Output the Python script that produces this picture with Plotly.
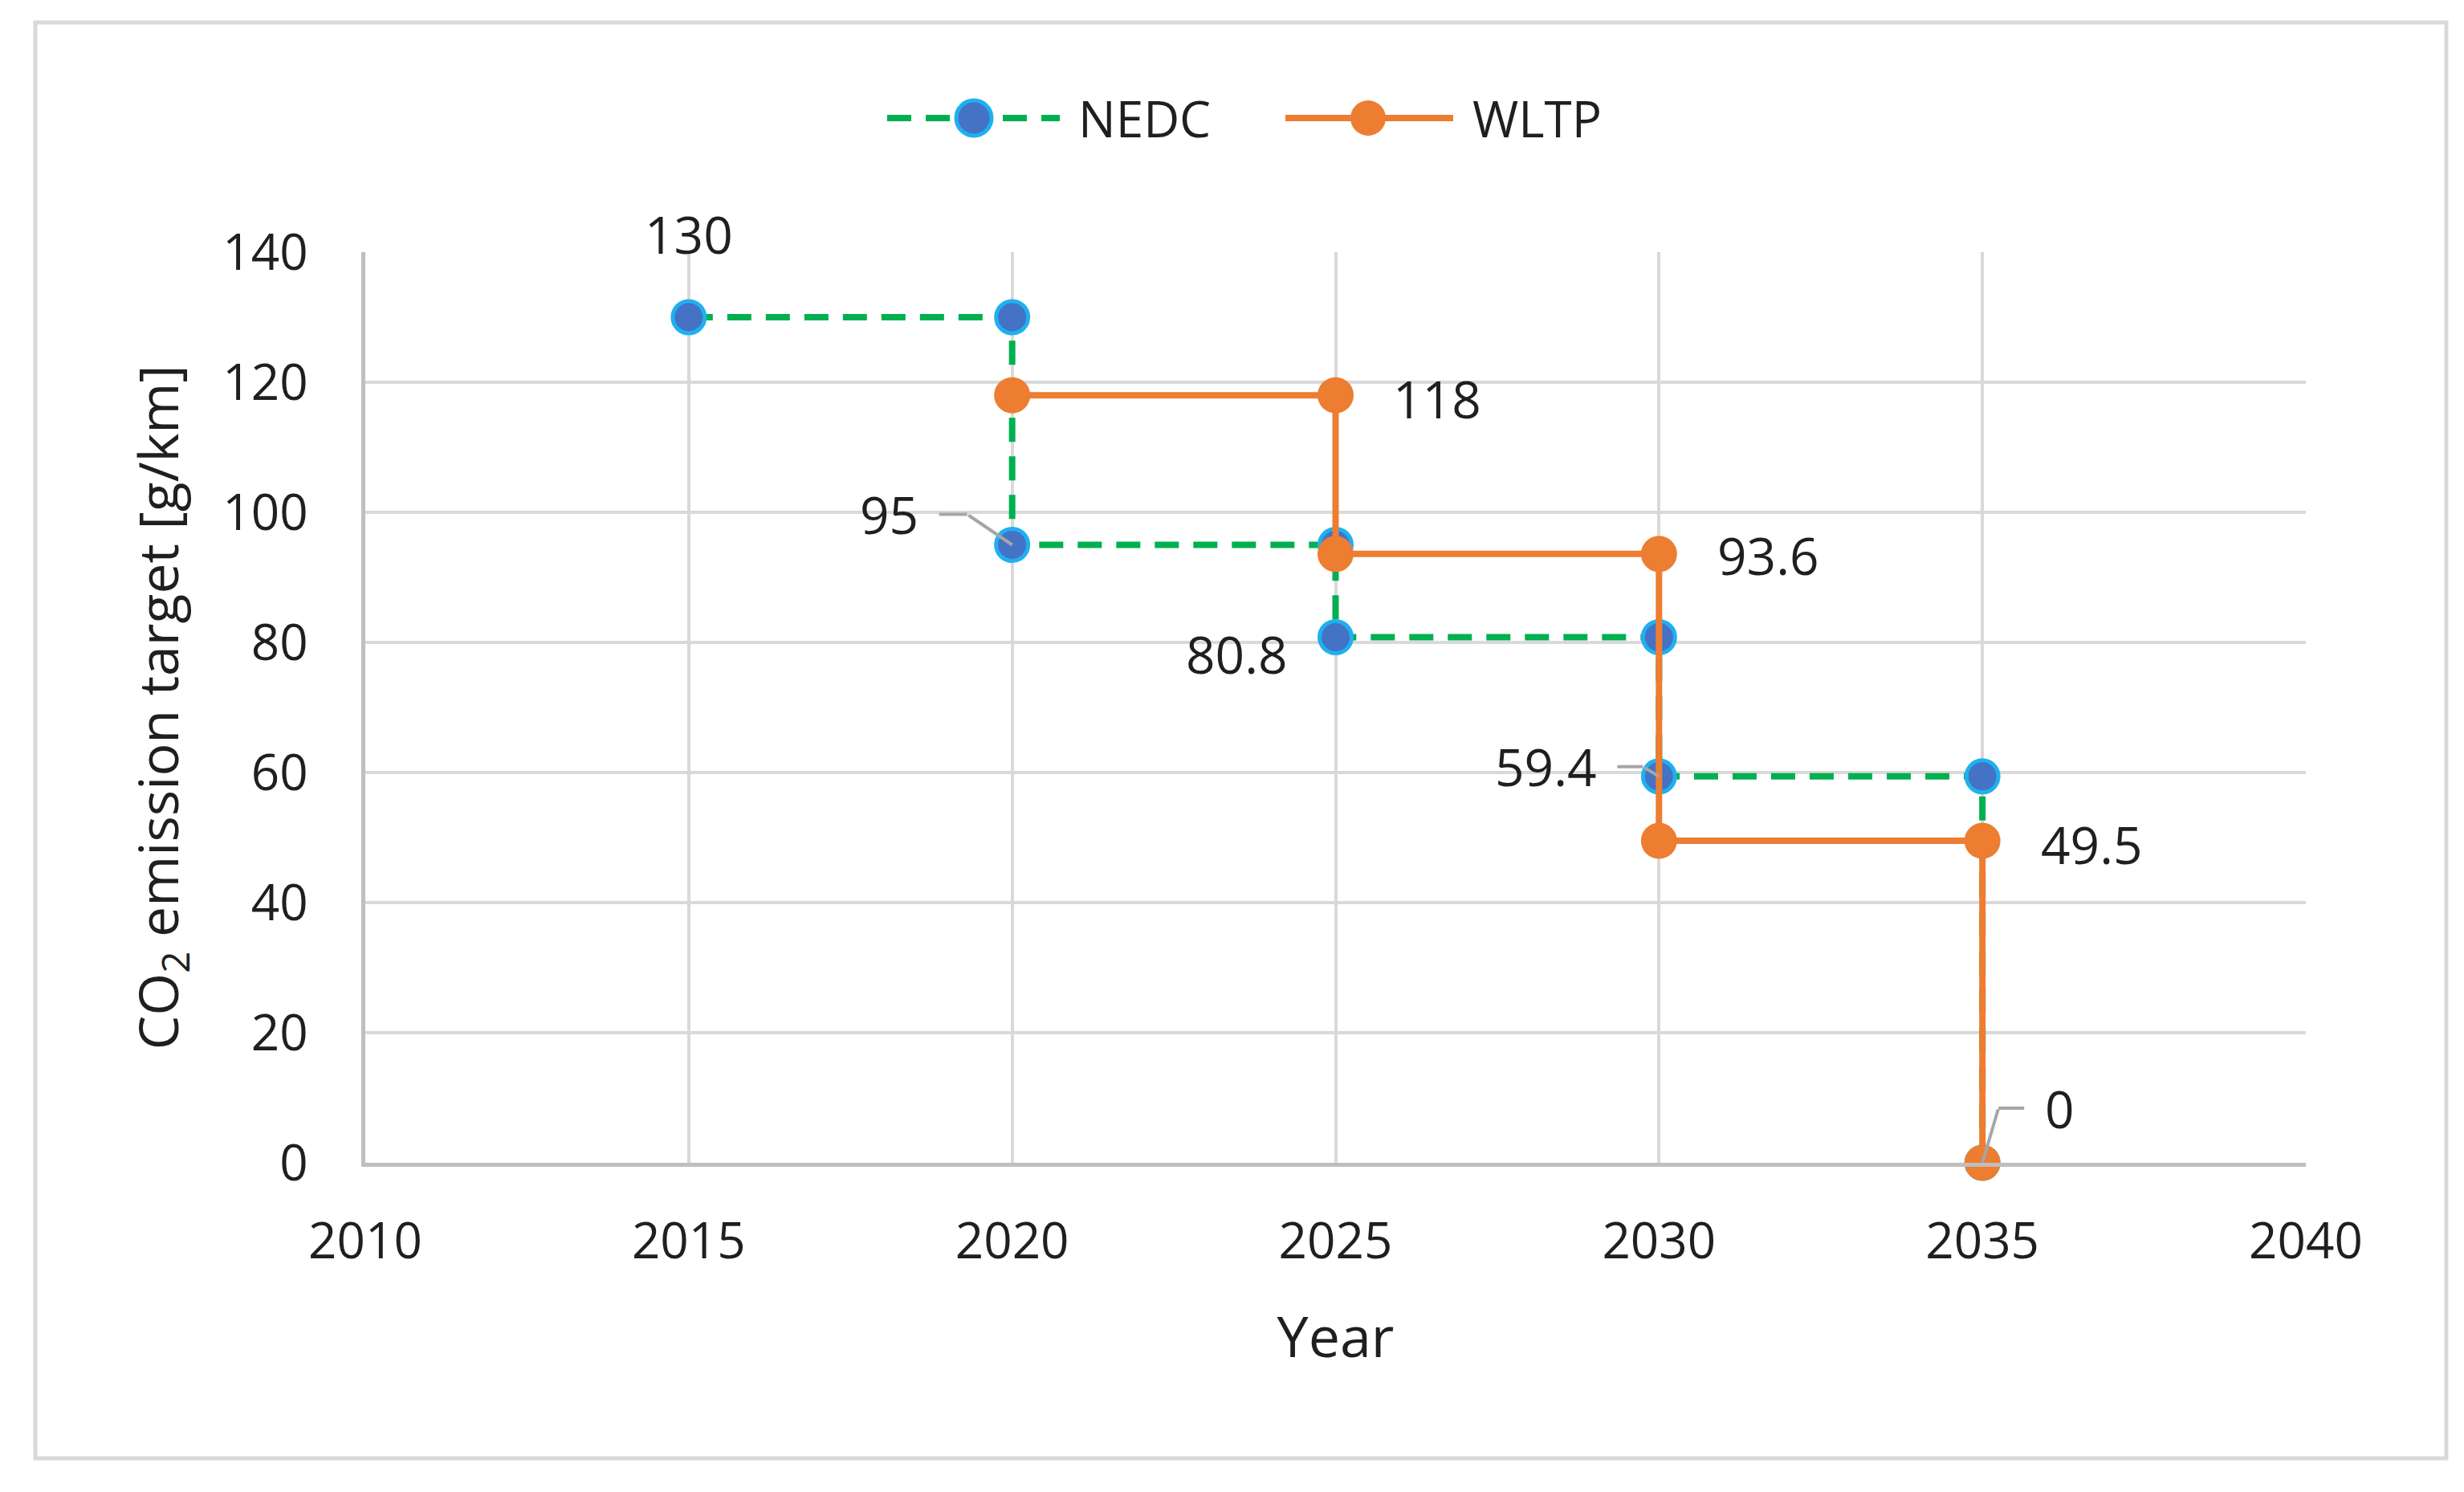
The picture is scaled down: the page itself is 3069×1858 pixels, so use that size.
import plotly.graph_objects as go

# ---- data ----
nedc_years = [2015, 2020, 2020, 2025, 2025, 2030, 2030, 2035, 2035]
nedc_values = [130, 130, 95, 95, 80.8, 80.8, 59.4, 59.4, 0]
wltp_years = [2020, 2025, 2025, 2030, 2030, 2035, 2035]
wltp_values = [118, 118, 93.6, 93.6, 49.5, 49.5, 0]

# labelled points (index into the series above)
nedc_label_idx = [0, 2, 4, 6]
wltp_label_idx = [1, 3, 5, 6]

x_ticks = [2010, 2015, 2020, 2025, 2030, 2035, 2040]
y_ticks = [0, 20, 40, 60, 80, 100, 120, 140]

# ---- styling ----
W, H = 3069, 1858
ML, MR, MT, MB = 447, 205, 306, 418
FONT = "Open Sans, Noto Sans, sans-serif"
TXT = "#1F1F1F"
GREEN = "#00B050"
NEDC_FILL = "#4472C4"
NEDC_EDGE = "#1FB0F0"
ORANGE = "#ED7D31"
GRID = "#D9D9D9"
LEADER = "#A6A6A6"
LABEL_SIZE = 64

# label placement (screen pixels, y down):
#   plain label: ("t", dx, dy)  text centre offset from the point
#   leader label: ("l", ex, ey, tx) elbow offset from point, text offset from elbow
nedc_label_pos = [("t", 0, -104), ("l", -56, -38, -97), ("t", -123, 21), ("l", -20, -12, -121)]
wltp_label_pos = [("t", 126, 4), ("t", 136, 2), ("t", 136, 4), ("l", 20, -68, 76)]

fig = go.Figure()
fig.add_trace(go.Scatter(
    x=nedc_years, y=nedc_values, mode="lines+markers", name="NEDC",
    line=dict(color=GREEN, width=8, dash="30px,18px"),
    marker=dict(size=40, color=NEDC_FILL, line=dict(color=NEDC_EDGE, width=5)),
    cliponaxis=False, showlegend=False,
))
fig.add_trace(go.Scatter(
    x=wltp_years, y=wltp_values, mode="lines+markers", name="WLTP",
    line=dict(color=ORANGE, width=8),
    marker=dict(size=45, color=ORANGE, line=dict(width=0)),
    cliponaxis=False, showlegend=False,
))

def fmt(v):
    return f"{v:g}"

annotations = []
for series_x, series_y, idxs, poss in [
    (nedc_years, nedc_values, nedc_label_idx, nedc_label_pos),
    (wltp_years, wltp_values, wltp_label_idx, wltp_label_pos),
]:
    for i, pos in zip(idxs, poss):
        xv, yv = series_x[i], series_y[i]
        if pos[0] == "l":
            _, ex, ey, tx = pos
            # diagonal part of leader: from elbow to the point
            annotations.append(dict(
                x=xv, y=yv, xref="x", yref="y", text="", showarrow=True,
                ax=ex, ay=ey, arrowhead=0, arrowwidth=4, arrowcolor=LEADER,
                standoff=0,
            ))
            # label text + horizontal part of leader to the elbow
            annotations.append(dict(
                x=xv, y=yv, xref="x", yref="y", xshift=ex, yshift=-ey,
                text=fmt(yv), showarrow=True, ax=tx, ay=0,
                arrowhead=0, arrowwidth=4, arrowcolor=LEADER, standoff=0,
                startstandoff=24,
                font=dict(family=FONT, size=LABEL_SIZE, color=TXT),
            ))
        else:
            _, dx, dy = pos
            annotations.append(dict(
                x=xv, y=yv, xref="x", yref="y",
                text=fmt(yv), showarrow=False, xshift=dx, yshift=-dy,
                font=dict(family=FONT, size=LABEL_SIZE, color=TXT),
            ))

# custom legend (Excel-style long samples)
pw, ph = W - ML - MR, H - MT - MB
def px_x(p):
    return (p - ML) / pw
def px_y(p):
    return (H - MB - p) / ph

leg_y = px_y(139)
shapes = [
    # outer chart frame
    dict(type="rect", xref="paper", yref="paper",
         x0=px_x(36), x1=px_x(3039), y0=px_y(1808), y1=px_y(20),
         line=dict(color=GRID, width=5), layer="below"),
    # NEDC legend sample
    dict(type="line", xref="paper", yref="paper", x0=px_x(1097), x1=px_x(1312),
         y0=leg_y, y1=leg_y, line=dict(color=GREEN, width=8, dash="30px,18px")),
    dict(type="circle", xref="paper", yref="paper", xsizemode="pixel", ysizemode="pixel",
         xanchor=px_x(1205), yanchor=leg_y, x0=-22, x1=22, y0=-22, y1=22,
         fillcolor=NEDC_FILL, line=dict(color=NEDC_EDGE, width=5)),
    # WLTP legend sample
    dict(type="line", xref="paper", yref="paper", x0=px_x(1593), x1=px_x(1802),
         y0=leg_y, y1=leg_y, line=dict(color=ORANGE, width=8)),
    dict(type="circle", xref="paper", yref="paper", xsizemode="pixel", ysizemode="pixel",
         xanchor=px_x(1696), yanchor=leg_y, x0=-22, x1=22, y0=-22, y1=22,
         fillcolor=ORANGE, line=dict(width=0)),
]
annotations += [
    dict(x=px_x(1333), y=leg_y, xref="paper", yref="paper", text="NEDC",
         showarrow=False, xanchor="left", yanchor="middle",
         font=dict(family=FONT, size=62, color=TXT)),
    dict(x=px_x(1824), y=leg_y, xref="paper", yref="paper", text="WLTP",
         showarrow=False, xanchor="left", yanchor="middle",
         font=dict(family=FONT, size=62, color=TXT)),
]

fig.update_layout(
    width=W, height=H, autosize=False,
    margin=dict(l=ML, r=MR, t=MT, b=MB),
    paper_bgcolor="white", plot_bgcolor="white",
    font=dict(family=FONT, color=TXT),
    shapes=shapes, annotations=annotations,
    showlegend=False,
    xaxis=dict(
        range=[x_ticks[0], x_ticks[-1]], tickvals=x_ticks,
        ticktext=[str(t) for t in x_ticks],
        showgrid=True, gridcolor=GRID, gridwidth=4,
        showline=True, linecolor="#BFBFBF", linewidth=5,
        zeroline=False, ticks="", ticklabelstandoff=40,
        tickfont=dict(family=FONT, size=62, color=TXT),
        title=dict(text="Year", standoff=58, font=dict(family=FONT, size=70, color=TXT)),
    ),
    yaxis=dict(
        range=[y_ticks[0], y_ticks[-1]], tickvals=y_ticks,
        showgrid=True, gridcolor=GRID, gridwidth=4,
        showline=True, linecolor="#BFBFBF", linewidth=5,
        zeroline=False, ticks="", ticklabelstandoff=54,
        tickfont=dict(family=FONT, size=62, color=TXT),
        title=dict(text="CO<sub>2</sub> emission target [g/km]", standoff=34,
                   font=dict(family=FONT, size=68, color=TXT)),
    ),
)

fig.write_html("out.html")
